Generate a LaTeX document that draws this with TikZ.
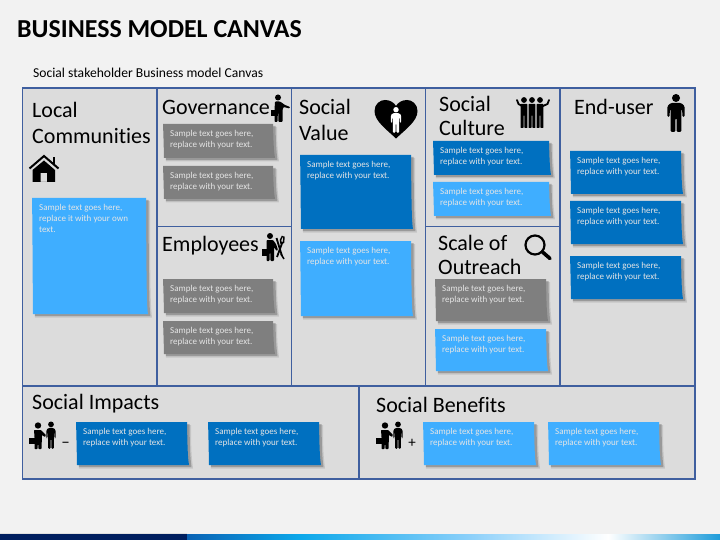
\documentclass[tikz,border=0pt]{standalone}
\usepackage{fontspec}
\setmainfont[Ligatures=CommonOff]{Carlito}
\definecolor{slidebg}{HTML}{F2F2F2}
\definecolor{cellbg}{HTML}{DCDCDC}
\definecolor{gridline}{HTML}{3F5F9F}
\definecolor{darkblue}{HTML}{0070C0}
\definecolor{lightblue}{HTML}{3FAEFF}
\definecolor{noteg}{HTML}{7F7F7F}
\definecolor{navy}{HTML}{001F5F}
\definecolor{bandA}{HTML}{0A62B4}
\definecolor{bandB}{HTML}{0CA8EA}
\definecolor{bandC}{HTML}{8CD0FA}
\definecolor{bandD}{HTML}{1E9CDA}
\tikzset{
  cell/.style={draw=gridline,line width=1.3pt,fill=cellbg},
  heading/.style={anchor=west,align=left,inner sep=0pt,text=black,font=\fontsize{22}{26}\selectfont},
  notetext/.style={anchor=north west,align=left,inner sep=0pt,text=white!90!black,font=\fontsize{9}{11}\selectfont},
  icon/.style={fill=black,draw=none},
}
% x1, y1, x2 (top right), y2, colour, name, text
\newcommand{\stickynote}[7]{%
  \fill[black,opacity=.10] (#1+2,#2+3) -- (#3+4,#2+3) .. controls (#3+4,#4-10) and (#3+5,#4-6) .. (#3+6,#4+3.5) -- (#1+3,#4+3.5) -- cycle;
  \fill[black,opacity=.22] (#1+2,#2+2) -- (#3+2.5,#2+2) .. controls (#3+3,#4-10) and (#3+3.5,#4-6) .. (#3+4.5,#4+2.2) -- (#1+3,#4+2.2) -- cycle;
  \fill[#5] (#1,#2) -- (#3,#2) .. controls (#3+.5,#4-12) and (#3+1,#4-6) .. (#3+2,#4) -- (#1+1,#4) .. controls (#1+.8,#4-10) and (#1+.4,#2+10) .. cycle;
  \node[notetext] (#6) at (#1+7,#2+6.5) {#7};
}
\newcommand{\stext}{Sample text goes here,\\replace with your text.}
% standing figure, height 38 at scale 1: cx, top, scale, width factor
\newcommand{\figperson}[4]{%
  \fill (#1,#2+4*#3) circle ({4*#3});
  \begin{scope}[shift={(#1,#2)},yscale=#3,xscale=#3*#4]
    \fill[rounded corners=1.2] (-5.5,9) -- (5.5,9) -- (9,12) -- (9,23) -- (6.8,23) -- (6.4,15) -- (5.6,15) -- (5.6,38) -- (0.8,38) -- (0.5,24) -- (-0.5,24) -- (-0.8,38) -- (-5.6,38) -- (-5.6,15) -- (-6.4,15) -- (-6.8,23) -- (-9,23) -- (-9,12) -- cycle;
  \end{scope}}
% slim figure of a group: cx, top
\newcommand{\figslim}[2]{%
  \fill (#1,#2+3) circle (2.9);
  \fill[rounded corners=.6] (#1-3.4,#2+7) -- (#1+3.4,#2+7) -- (#1+3.4,#2+31) -- (#1+.5,#2+31) -- (#1+.3,#2+18) -- (#1-.3,#2+18) -- (#1-.5,#2+31) -- (#1-3.4,#2+31) -- cycle;}
\begin{document}
\begin{tikzpicture}[x=1pt,y=-1pt]
\useasboundingbox (0,0) rectangle (720,540);
\fill[slidebg] (0,0) rectangle (720,540);
% bottom band
\fill[navy] (0,534) rectangle (187,540);
\fill[left color=bandA,right color=bandB] (187,534) rectangle (300,540);
\fill[left color=bandB,right color=bandC] (300,534) rectangle (470,540);
\fill[left color=bandC,right color=white] (470,534) rectangle (608,540);
\fill[left color=white,right color=bandD] (608,534) rectangle (720,540);
\fill[black!12] (0,533) rectangle (187,534);
% titles
\node[anchor=west,inner sep=0pt,font=\fontsize{25.9}{28}\selectfont\bfseries] (title) at (17,29) {BUSINESS MODEL CANVAS};
\node[anchor=west,inner sep=0pt,font=\fontsize{13.6}{16}\selectfont] (subtitle) at (33,73) {Social stakeholder Business model Canvas};
% grid
\draw[cell] (22.5,88) rectangle (157,386);
\draw[cell] (157,88) rectangle (291.5,226.5);
\draw[cell] (157,226.5) rectangle (291.5,386);
\draw[cell] (291.5,88) rectangle (425.5,386);
\draw[cell] (425.5,88) rectangle (560,226.5);
\draw[cell] (425.5,226.5) rectangle (560,386);
\draw[cell] (560,88) rectangle (695,386);
\draw[cell] (22.5,386) rectangle (359,479);
\draw[cell] (359,386) rectangle (695,479);
% headings
\node[heading] (hlocal) at (32,123) {Local\\Communities};
\node[heading] (hgov) at (162,107) {Governance};
\node[heading] (hemp) at (162,246) {Employees};
\node[heading] (hvalue) at (299,120) {Social\\Value};
\node[heading,font=\fontsize{22}{24}\selectfont] (hculture) at (439,116) {Social\\Culture};
\node[heading,font=\fontsize{22}{24}\selectfont] (hscale) at (438,255) {Scale of\\Outreach};
\node[heading] (huser) at (574,107) {End-user};
\node[heading] (himpact) at (32,404) {Social Impacts};
\node[heading] (hbenefit) at (376,405) {Social Benefits};
% notes
\stickynote{32}{198}{146}{314}{lightblue}{nlocal}{Sample text goes here,\\replace it with your own\\text.}
\stickynote{163}{124}{273}{158}{noteg}{ngova}{\stext}
\stickynote{163}{166}{273}{199}{noteg}{ngovb}{\stext}
\stickynote{163}{279}{273}{313}{noteg}{nempa}{\stext}
\stickynote{163}{321}{273}{354}{noteg}{nempb}{\stext}
\stickynote{300}{155}{411}{229}{darkblue}{nvala}{\stext}
\stickynote{300}{241}{411}{316}{lightblue}{nvalb}{\stext}
\stickynote{433}{141}{549}{175}{darkblue}{ncula}{\stext}
\stickynote{433}{182}{549}{216}{lightblue}{nculb}{\stext}
\stickynote{435}{279}{546}{321}{noteg}{nscaa}{\stext}
\stickynote{435}{329}{546}{371}{lightblue}{nscab}{\stext}
\stickynote{570}{151}{681}{194}{darkblue}{nusea}{\stext}
\stickynote{570}{201}{681}{244}{darkblue}{nuseb}{\stext}
\stickynote{570}{256}{681}{299}{darkblue}{nusec}{\stext}
\stickynote{76}{422}{187}{465}{darkblue}{nimpa}{\stext}
\stickynote{208}{422}{319}{465}{darkblue}{nimpb}{\stext}
\stickynote{423}{422}{534}{465}{lightblue}{nbena}{\stext}
\stickynote{548}{422}{659}{465}{lightblue}{nbenb}{\stext}
% house icon
\draw[line width=2pt,line join=miter] (29.5,168.5) -- (44,156) -- (58.5,168.5);
\fill[icon] (52.5,157.5) rectangle (55,164);
\fill[icon,even odd rule] (44,160.5) -- (55,170) -- (55,182) -- (32.5,182) -- (32.5,170) -- cycle (40.5,182) rectangle (47,173);
% governance figure
\fill[icon] (278,97.5) circle (3);
\fill[icon,rounded corners=.8] (275,101.5) -- (280,101.5) -- (285,105) -- (290,107) -- (289.5,108.5) -- (283.5,107) -- (282.5,110) -- (282.5,122) -- (278.5,122) -- (278.3,113) -- (277.7,113) -- (277.5,122) -- (274.5,122) -- (274.5,110) -- cycle;
\fill[icon] (271,110) rectangle (278,116.5);
% employee figure + tools
\fill[icon] (270,236) circle (3);
\fill[icon,rounded corners=.8] (266.5,240) -- (273,240) -- (276,244) -- (278,250) -- (276.5,251) -- (274,247) -- (274,261) -- (270.5,261) -- (270.2,252) -- (269.8,252) -- (269.5,261) -- (266.5,261) -- (266.5,246) -- cycle;
\fill[icon] (262,249) rectangle (269,255.5);
\draw[line width=1.8pt] (276.5,238) -- (282,256);
\draw[line width=1.5pt] (282.5,236) -- (280.5,240) -- (281,243) -- (283.5,242.5) -- (284,236.5);
\draw[line width=1.8pt] (282.5,242) -- (277,257);
\draw[line width=1.5pt] (281,254) -- (284,259);
% heart icon
\fill[icon] (396,138.5) .. controls (386,129) and (374.5,121) .. (374.5,111) .. controls (374.5,104) and (380,100) .. (385,100) .. controls (390,100) and (394,102.5) .. (396,106) .. controls (398,102.5) and (402,100) .. (407,100) .. controls (412,100) and (417.5,104) .. (417.5,111) .. controls (417.5,121) and (406,129) .. (396,138.5) -- cycle;
\begin{scope}[white]
\figperson{396}{107}{.68}{.85}
\end{scope}
% culture trio
\figslim{524}{97}
\figslim{532}{97}
\figslim{540}{97}
\draw[line width=1.8pt,line cap=round] (517,100) -- (518.5,104) -- (522,106);
\draw[line width=1.8pt,line cap=round] (549,100) -- (547.5,104) -- (543,106);
% magnifier
\draw[line width=2.2pt] (535,245) circle (9.5);
\draw[line width=3.6pt,line cap=round] (542.5,252) -- (550,258.5);
\draw[white!85!black,line width=.8pt] (529,244) arc (180:270:6);
% end-user figure
\figperson{676}{94}{1}{.95}
% impact pair
\fill[icon] (38,425.5) circle (3.2);
\fill[icon,rounded corners=.6] (34,430) -- (41,430) -- (46,435) -- (45,437) -- (42,435) -- (41.5,449) -- (38.5,449) -- (38,441) -- (37.5,449) -- (34.5,449) -- (34.5,437) -- cycle;
\fill[icon] (29,437.5) rectangle (36,443.5);
\figperson{51}{421.5}{.72}{.72}
\node[inner sep=0pt,font=\fontsize{17}{18}\selectfont] (minus) at (65.5,445) {–};
% benefit pair
\fill[icon] (385,425.5) circle (3.2);
\fill[icon,rounded corners=.6] (381,430) -- (388,430) -- (393,435) -- (392,437) -- (389,435) -- (388.5,449) -- (385.5,449) -- (385,441) -- (384.5,449) -- (381.5,449) -- (381.5,437) -- cycle;
\fill[icon] (376,437.5) rectangle (383,443.5);
\figperson{398}{421.5}{.72}{.72}
\node[inner sep=0pt,font=\fontsize{15}{16}\selectfont] (plus) at (412,443) {+};
\end{tikzpicture}
\end{document}
